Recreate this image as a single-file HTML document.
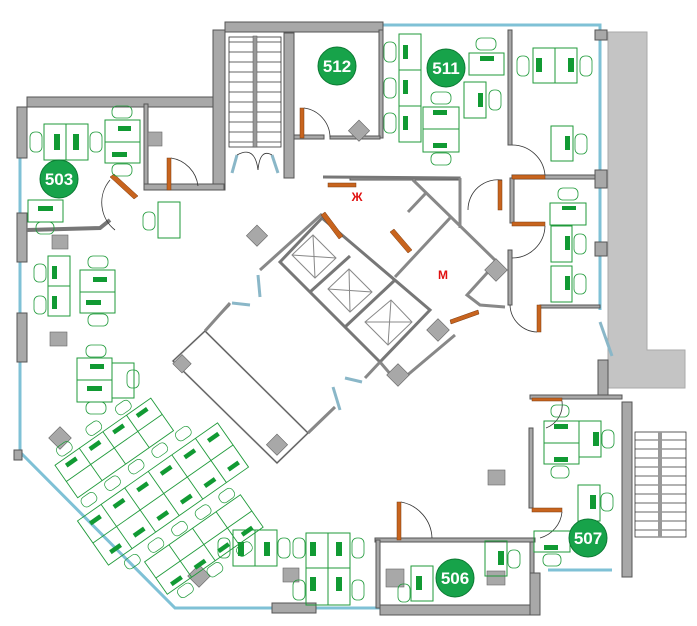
<!DOCTYPE html>
<html><head><meta charset="utf-8"><style>
html,body{margin:0;padding:0;background:#fff;width:697px;height:626px;overflow:hidden}
svg{display:block}
.w{fill:#a8a8a8;stroke:#555;stroke-width:1}
.g{fill:none;stroke:#7fc1d6;stroke-width:3}
.d{fill:none;stroke:#1f9a3a;stroke-width:1}
.m{fill:#119a33}
.c{fill:none;stroke:#1f9a3a;stroke-width:0.8}
.dr{fill:#c8641e;stroke:#7a3a10;stroke-width:0.5}
.cl2{fill:none;stroke:#bbb;stroke-width:2}
.arc{fill:none;stroke:#333;stroke-width:0.8}
.num{fill:#fff;font-family:"Liberation Sans",sans-serif;font-weight:bold;font-size:17px;text-anchor:middle}
.red{fill:#e01010;font-family:"Liberation Sans",sans-serif;font-weight:bold;font-size:12px;text-anchor:middle}
</style></head><body>
<svg width="697" height="626" viewBox="0 0 697 626" xmlns="http://www.w3.org/2000/svg">
<polygon points="608,32 647,32 647,350 685,350 685,388 608,388" fill="#c4c4c4" stroke="#aaa"/>
<polyline class="g" points="20,158 20,452 175,608 540,608"/>
<polyline class="g" points="380,25 600,25 600,310"/>
<line class="g" x1="548" y1="570" x2="612" y2="570"/>
<rect class="w" x="27" y="97" width="198" height="10"/>
<rect class="w" x="17" y="107" width="10" height="51"/>
<rect class="w" x="17" y="213" width="10" height="49"/>
<rect class="w" x="17" y="313" width="10" height="49"/>
<rect class="w" x="14" y="450" width="8" height="10"/>
<rect class="w" x="213" y="30" width="12" height="160"/>
<rect class="w" x="225" y="22" width="158" height="10"/>
<rect class="w" x="284" y="33" width="10" height="145"/>
<rect class="w" x="144" y="104" width="4" height="82"/>
<rect class="w" x="144" y="184" width="80" height="6"/>
<polyline points="27,230 100,228 110,220" fill="none" stroke="#777" stroke-width="4"/>
<rect x="229" y="37" width="52" height="110" fill="#fff" stroke="#333" stroke-width="0.8"/>
<g stroke="#333" stroke-width="0.8">
<line x1="229" y1="42" x2="281" y2="42"/><line x1="229" y1="52" x2="281" y2="52"/><line x1="229" y1="62" x2="281" y2="62"/><line x1="229" y1="72" x2="281" y2="72"/><line x1="229" y1="82" x2="281" y2="82"/><line x1="229" y1="92" x2="281" y2="92"/><line x1="229" y1="102" x2="281" y2="102"/><line x1="229" y1="112" x2="281" y2="112"/><line x1="229" y1="122" x2="281" y2="122"/><line x1="229" y1="132" x2="281" y2="132"/><line x1="229" y1="142" x2="281" y2="142"/>
</g>
<rect x="253" y="36" width="4" height="111" fill="#999" stroke="#555" stroke-width="0.5"/>
<g transform="translate(635,0)">
<rect x="0" y="432" width="51" height="105" fill="#fff" stroke="#333" stroke-width="0.8"/>
<g stroke="#333" stroke-width="0.8"><line x1="0" y1="440" x2="51" y2="440"/><line x1="0" y1="449" x2="51" y2="449"/><line x1="0" y1="458" x2="51" y2="458"/><line x1="0" y1="467" x2="51" y2="467"/><line x1="0" y1="476" x2="51" y2="476"/><line x1="0" y1="485" x2="51" y2="485"/><line x1="0" y1="494" x2="51" y2="494"/><line x1="0" y1="503" x2="51" y2="503"/><line x1="0" y1="512" x2="51" y2="512"/><line x1="0" y1="521" x2="51" y2="521"/><line x1="0" y1="530" x2="51" y2="530"/></g>
<rect x="23" y="432" width="4" height="105" fill="#999"/>
</g>
<rect x="379" y="30" width="4" height="108" class="w"/>
<rect x="508" y="30" width="4" height="115" class="w"/>
<rect x="350" y="177" width="110" height="3" class="w"/>
<rect x="512" y="175" width="90" height="4" class="w"/>
<rect x="510" y="178" width="4" height="45" class="w"/>
<rect x="508" y="250" width="4" height="55" class="w"/>
<rect x="540" y="305" width="60" height="3" class="w"/>
<rect x="595" y="30" width="12" height="10" class="w"/>
<rect x="595" y="170" width="12" height="18" class="w"/>
<rect x="595" y="242" width="12" height="14" class="w"/>
<rect x="294" y="135" width="30" height="4" class="w"/>
<rect x="330" y="136" width="50" height="3" class="w"/>
<rect x="598" y="360" width="10" height="38" class="w"/>
<rect x="530" y="395" width="92" height="4" class="w"/>
<rect x="622" y="402" width="10" height="175" class="w"/>
<rect x="529" y="428" width="4" height="80" class="w"/>
<rect x="530" y="538" width="4" height="38" class="w"/>
<rect x="375" y="538" width="160" height="4" class="w"/>
<rect x="376" y="540" width="4" height="68" class="w"/>
<rect x="380" y="605" width="150" height="10" class="w"/>
<rect x="530" y="573" width="10" height="42" class="w"/>
<rect x="272" y="603" width="44" height="10" class="w"/>
<g>
<polygon points="173,361 205,331 308,433 277,463" class="cl2"/>
<polygon points="173,361 205,331 308,433 277,463" fill="none" stroke="#555" stroke-width="1"/>
<line x1="205" y1="331" x2="230" y2="305" stroke="#555"/>
<line x1="260" y1="270" x2="322" y2="214" stroke="#888" stroke-width="3"/>
<polygon points="280,262 322,218 430,310 380,362" fill="none" stroke="#777" stroke-width="3"/>
<line x1="310" y1="292" x2="350" y2="256" stroke="#777" stroke-width="3"/>
<line x1="345" y1="327" x2="395" y2="280" stroke="#777" stroke-width="3"/>
<g fill="none" stroke="#888" stroke-width="1">
<polygon points="292,255 313,235 336,258 315,278"/><line x1="292" y1="255" x2="336" y2="258"/><line x1="313" y1="235" x2="315" y2="278"/>
<polygon points="328,289 349,269 372,292 350,312"/><line x1="328" y1="289" x2="372" y2="292"/><line x1="349" y1="269" x2="350" y2="312"/>
<polygon points="365,322 391,300 412,322 388,345"/><line x1="365" y1="322" x2="412" y2="322"/><line x1="391" y1="300" x2="388" y2="345"/>
</g>
<line x1="323" y1="177" x2="460" y2="178" stroke="#777" stroke-width="3"/>
<line x1="460" y1="178" x2="460" y2="228" stroke="#888" stroke-width="3"/>
<line x1="413" y1="180" x2="497" y2="262" stroke="#888" stroke-width="3"/>
<line x1="450" y1="218" x2="395" y2="277" stroke="#888" stroke-width="3"/>
<line x1="426" y1="193" x2="408" y2="212" stroke="#888" stroke-width="3"/>
<polyline points="497,262 467,295 480,305 505,307" fill="none" stroke="#888" stroke-width="3"/>
<polyline points="380,362 398,383 455,335" fill="none" stroke="#888" stroke-width="3"/>
<line x1="308" y1="433" x2="335" y2="407" stroke="#888" stroke-width="3"/>
<line x1="365" y1="378" x2="380" y2="362" stroke="#888" stroke-width="3"/>
<line x1="230" y1="303" x2="205" y2="331" stroke="#888" stroke-width="3"/>
</g>
<g stroke="#8ab7c8" stroke-width="3" fill="none">
<line x1="232" y1="173" x2="237" y2="155"/><line x1="272" y1="155" x2="278" y2="173"/>
<line x1="258" y1="275" x2="260" y2="297"/><line x1="232" y1="303" x2="250" y2="305"/>
<line x1="333" y1="387" x2="340" y2="410"/><line x1="345" y1="378" x2="362" y2="382"/>
<line x1="600" y1="322" x2="612" y2="356"/>
</g>
<g class="dr">
<rect x="167" y="158" width="4" height="32"/>
<rect x="300" y="108" width="4" height="30"/>
<polygon points="110,177 114,174 138,196 134,199"/>
<rect x="328" y="183" width="28" height="4"/>
<polygon points="321,215 325,212 343,236 339,239"/>
<polygon points="390,232 394,229 412,250 408,253"/>
<rect x="512" y="175" width="33" height="4"/>
<rect x="498" y="180" width="4" height="30"/>
<rect x="512" y="222" width="33" height="4"/>
<polygon points="450,320 478,310 479,314 451,324"/>
<rect x="537" y="305" width="4" height="27"/>
<rect x="532" y="398" width="30" height="3"/>
<rect x="532" y="508" width="30" height="4"/>
<rect x="397" y="502" width="4" height="38"/>
</g>
<g class="arc">
<path d="M171,158 A32,32 0 0 1 198,186"/>
<path d="M304,108 A30,30 0 0 1 330,137"/>
<path d="M110,180 A35,35 0 0 0 115,230"/>
<path d="M502,180 A30,30 0 0 0 468,210"/>
<path d="M545,175 A33,33 0 0 0 512,145"/>
<path d="M545,226 A33,33 0 0 1 512,258"/>
<path d="M537,332 A28,28 0 0 1 510,305"/>
<path d="M401,502 A38,38 0 0 1 432,538"/>
<path d="M562,512 A30,30 0 0 1 540,538"/>
<path d="M562,401 A25,25 0 0 1 546,428"/>
<path d="M237,155 Q255,145 258,170"/><path d="M258,170 Q260,148 272,155"/>
</g>
<g fill="#a8a8a8" stroke="#666" stroke-width="0.6">
<rect x="148" y="132" width="14" height="14"/>
<rect x="52" y="235" width="16" height="14"/>
<rect x="50" y="332" width="17" height="14"/>
<rect x="386" y="569" width="18" height="18"/>
<rect x="488" y="470" width="17" height="15"/>
<rect x="487" y="571" width="18" height="14"/>
<rect x="283" y="568" width="16" height="14"/>
<rect x="250" y="228" width="15" height="15" transform="rotate(45 257 235)"/>
<rect x="352" y="123" width="15" height="15" transform="rotate(45 359 130)"/>
<rect x="52" y="430" width="16" height="16" transform="rotate(45 60 438)"/>
<rect x="191" y="568" width="16" height="16" transform="rotate(45 199 576)"/>
<rect x="488" y="262" width="16" height="16" transform="rotate(45 496 270)"/>
<rect x="430" y="322" width="16" height="16" transform="rotate(45 438 330)"/>
<rect x="390" y="367" width="16" height="16" transform="rotate(45 398 375)"/>
<rect x="270" y="437" width="15" height="15" transform="rotate(45 277 444)"/>
<rect x="176" y="357" width="13" height="13" transform="rotate(45 182 363)"/>
</g>
<g>
<g class="d">
<rect x="44" y="124" width="44" height="36"/><line x1="66" y1="124" x2="66" y2="160"/>
<rect x="105" y="120" width="35" height="43"/><line x1="105" y1="142" x2="140" y2="142"/>
<rect x="28" y="200" width="35" height="22"/>
<rect x="158" y="202" width="22" height="36"/>
<rect x="48" y="256" width="22" height="60"/><line x1="48" y1="286" x2="70" y2="286"/>
<rect x="80" y="270" width="35" height="43"/><line x1="80" y1="292" x2="115" y2="292"/>
<rect x="77" y="358" width="35" height="44"/><line x1="77" y1="380" x2="112" y2="380"/><rect x="112" y="363" width="22" height="35"/>
<rect x="233" y="530" width="44" height="36"/><line x1="255" y1="530" x2="255" y2="566"/>
<rect x="306" y="533" width="44" height="72"/><line x1="328" y1="533" x2="328" y2="605"/><line x1="306" y1="568" x2="350" y2="568"/>
<rect x="411" y="566" width="22" height="35"/>
<rect x="485" y="541" width="22" height="35"/>
<rect x="544" y="421" width="35" height="43"/><line x1="544" y1="443" x2="579" y2="443"/>
<rect x="579" y="421" width="22" height="36"/>
<rect x="578" y="485" width="22" height="36"/>
<rect x="534" y="531" width="36" height="21"/>
<rect x="399" y="34" width="22" height="108"/><line x1="399" y1="70" x2="421" y2="70"/><line x1="399" y1="106" x2="421" y2="106"/>
<rect x="423" y="107" width="36" height="45"/><line x1="423" y1="129" x2="459" y2="129"/>
<rect x="469" y="53" width="35" height="22"/>
<rect x="464" y="82" width="22" height="36"/>
<rect x="533" y="48" width="44" height="35"/><line x1="555" y1="48" x2="555" y2="83"/>
<rect x="551" y="126" width="22" height="35"/>
<rect x="550" y="203" width="36" height="22"/>
<rect x="551" y="226" width="21" height="36"/>
<rect x="551" y="266" width="21" height="36"/>
</g>
<g class="m">
<rect x="54" y="134" width="6" height="16"/><rect x="73" y="134" width="6" height="16"/>
<rect x="118" y="126" width="13" height="5"/><rect x="112" y="152" width="15" height="5"/>
<rect x="38" y="206" width="15" height="5"/>
<rect x="52" y="266" width="5" height="13"/><rect x="52" y="296" width="5" height="13"/>
<rect x="93" y="277" width="14" height="5"/><rect x="86" y="300" width="15" height="5"/>
<rect x="90" y="364" width="14" height="5"/><rect x="87" y="386" width="15" height="5"/>
<rect x="238" y="542" width="6" height="14"/><rect x="264" y="542" width="6" height="14"/>
<rect x="310" y="542" width="6" height="14"/><rect x="336" y="542" width="6" height="14"/>
<rect x="310" y="577" width="6" height="14"/><rect x="336" y="577" width="6" height="14"/>
<rect x="416" y="576" width="6" height="14"/><rect x="498" y="551" width="6" height="14"/>
<rect x="554" y="424" width="14" height="5"/><rect x="554" y="457" width="14" height="5"/>
<rect x="593" y="432" width="6" height="14"/><rect x="590" y="495" width="6" height="14"/>
<rect x="544" y="545" width="14" height="5"/>
<rect x="403" y="45" width="5" height="14"/><rect x="403" y="80" width="5" height="14"/><rect x="403" y="116" width="5" height="14"/>
<rect x="433" y="110" width="14" height="5"/><rect x="433" y="143" width="14" height="5"/>
<rect x="480" y="56" width="14" height="5"/><rect x="478" y="93" width="5" height="14"/>
<rect x="536" y="58" width="6" height="14"/><rect x="568" y="58" width="6" height="14"/>
<rect x="565" y="136" width="5" height="14"/>
<rect x="562" y="206" width="14" height="4"/><rect x="565" y="236" width="5" height="14"/><rect x="565" y="276" width="5" height="14"/>
</g>
<g class="c">
<rect x="30" y="132" width="12" height="20" rx="5"/><rect x="90" y="132" width="12" height="20" rx="5"/>
<rect x="112" y="106" width="20" height="12" rx="5"/><rect x="112" y="164" width="20" height="12" rx="5"/>
<rect x="36" y="222" width="18" height="12" rx="5"/>
<rect x="143" y="212" width="12" height="18" rx="5"/>
<rect x="34" y="264" width="12" height="18" rx="5"/><rect x="34" y="296" width="12" height="18" rx="5"/>
<rect x="88" y="256" width="20" height="12" rx="5"/><rect x="88" y="314" width="20" height="12" rx="5"/>
<rect x="86" y="345" width="20" height="12" rx="5"/><rect x="86" y="402" width="20" height="12" rx="5"/><rect x="127" y="370" width="12" height="18" rx="5"/>
<rect x="218" y="538" width="12" height="20" rx="5"/><rect x="278" y="538" width="12" height="20" rx="5"/><rect x="293" y="538" width="12" height="20" rx="5"/>
<rect x="293" y="580" width="12" height="20" rx="5"/><rect x="352" y="538" width="12" height="20" rx="5"/><rect x="352" y="580" width="12" height="20" rx="5"/>
<rect x="398" y="584" width="12" height="18" rx="5"/><rect x="508" y="550" width="12" height="18" rx="5"/>
<rect x="551" y="405" width="18" height="12" rx="5"/><rect x="551" y="466" width="18" height="12" rx="5"/><rect x="602" y="430" width="12" height="18" rx="5"/><rect x="601" y="493" width="12" height="18" rx="5"/><rect x="543" y="554" width="18" height="12" rx="5"/>
<rect x="384" y="42" width="12" height="20" rx="5"/><rect x="384" y="78" width="12" height="20" rx="5"/><rect x="384" y="113" width="12" height="20" rx="5"/>
<rect x="431" y="92" width="20" height="12" rx="5"/><rect x="431" y="153" width="20" height="12" rx="5"/>
<rect x="476" y="38" width="20" height="12" rx="5"/><rect x="489" y="90" width="12" height="20" rx="5"/>
<rect x="517" y="56" width="12" height="20" rx="5"/><rect x="580" y="56" width="12" height="20" rx="5"/>
<rect x="575" y="134" width="12" height="20" rx="5"/>
<rect x="558" y="188" width="20" height="12" rx="5"/><rect x="574" y="234" width="12" height="20" rx="5"/><rect x="574" y="274" width="12" height="20" rx="5"/>
</g>
<g transform="translate(163,494) rotate(-35) scale(0.9)">
<g class="d">
<rect x="-95" y="-30" width="190" height="60"/>
<line x1="-95" y1="0" x2="95" y2="0"/>
<line x1="-63" y1="-30" x2="-63" y2="30"/><line x1="-31" y1="-30" x2="-31" y2="30"/><line x1="1" y1="-30" x2="1" y2="30"/><line x1="33" y1="-30" x2="33" y2="30"/><line x1="65" y1="-30" x2="65" y2="30"/>
<rect x="-80" y="-95" width="130" height="44"/><line x1="-80" y1="-73" x2="50" y2="-73"/><line x1="-47" y1="-95" x2="-47" y2="-51"/><line x1="-15" y1="-95" x2="-15" y2="-51"/><line x1="17" y1="-95" x2="17" y2="-51"/>
<rect x="-60" y="50" width="130" height="44"/><line x1="-60" y1="72" x2="70" y2="72"/><line x1="-27" y1="50" x2="-27" y2="94"/><line x1="5" y1="50" x2="5" y2="94"/><line x1="37" y1="50" x2="37" y2="94"/>
</g>
<g class="m">
<rect x="-85" y="-22" width="14" height="5"/><rect x="-53" y="-22" width="14" height="5"/><rect x="-21" y="-22" width="14" height="5"/><rect x="11" y="-22" width="14" height="5"/><rect x="43" y="-22" width="14" height="5"/><rect x="75" y="-22" width="14" height="5"/>
<rect x="-85" y="17" width="14" height="5"/><rect x="-53" y="17" width="14" height="5"/><rect x="-21" y="17" width="14" height="5"/><rect x="11" y="17" width="14" height="5"/><rect x="43" y="17" width="14" height="5"/><rect x="75" y="17" width="14" height="5"/>
<rect x="-70" y="-90" width="14" height="5"/><rect x="-38" y="-90" width="14" height="5"/><rect x="-6" y="-90" width="14" height="5"/><rect x="26" y="-90" width="14" height="5"/>
<rect x="-50" y="85" width="14" height="5"/><rect x="-18" y="85" width="14" height="5"/><rect x="14" y="85" width="14" height="5"/><rect x="46" y="85" width="14" height="5"/>
</g>
<g class="c">
<rect x="-80" y="-48" width="18" height="12" rx="5"/><rect x="-48" y="-48" width="18" height="12" rx="5"/><rect x="-16" y="-48" width="18" height="12" rx="5"/><rect x="16" y="-48" width="18" height="12" rx="5"/><rect x="48" y="-48" width="18" height="12" rx="5"/>
<rect x="-80" y="36" width="18" height="12" rx="5"/><rect x="-48" y="36" width="18" height="12" rx="5"/><rect x="-16" y="36" width="18" height="12" rx="5"/><rect x="16" y="36" width="18" height="12" rx="5"/><rect x="48" y="36" width="18" height="12" rx="5"/>
<rect x="-70" y="-110" width="18" height="12" rx="5"/><rect x="-30" y="-110" width="18" height="12" rx="5"/><rect x="10" y="-110" width="18" height="12" rx="5"/>
<rect x="-50" y="96" width="18" height="12" rx="5"/><rect x="-10" y="96" width="18" height="12" rx="5"/><rect x="30" y="96" width="18" height="12" rx="5"/>
</g>
</g>
</g>
<g>
<circle cx="337" cy="66" r="19" fill="#17a34a" stroke="#0c7a33"/><text class="num" x="337" y="72">512</text>
<circle cx="446" cy="68" r="19" fill="#17a34a" stroke="#0c7a33"/><text class="num" x="446" y="74">511</text>
<circle cx="59" cy="179" r="19" fill="#17a34a" stroke="#0c7a33"/><text class="num" x="59" y="185">503</text>
<circle cx="455" cy="578" r="19" fill="#17a34a" stroke="#0c7a33"/><text class="num" x="455" y="584">506</text>
<circle cx="588" cy="538" r="19" fill="#17a34a" stroke="#0c7a33"/><text class="num" x="588" y="544">507</text>
<text class="red" x="357" y="201">Ж</text>
<text class="red" x="443" y="279">М</text>
</g>
</svg>
</body></html>
